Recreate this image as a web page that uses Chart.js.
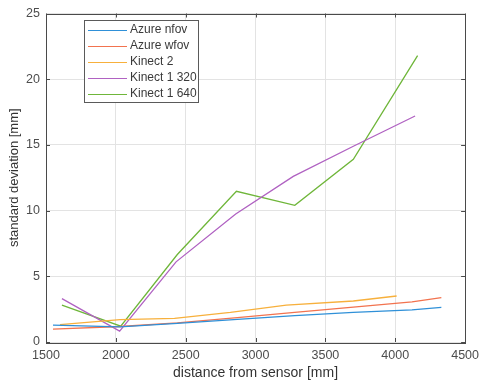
<!DOCTYPE html>
<html>
<head>
<meta charset="utf-8">
<script src="https://cdn.jsdelivr.net/npm/chart.js@4/dist/chart.umd.min.js"></script>
<style>
html,body{margin:0;padding:0;background:#fff;}
#wrap{width:485px;height:388px;position:relative;}
</style>
</head>
<body>
<div id="wrap"><canvas id="c" width="485" height="388"></canvas></div>
<script>
const seriesNames = ["Azure nfov", "Azure wfov", "Kinect 2", "Kinect 1 320", "Kinect 1 640"];

const azureNfovX = [1550, 2030, 2440, 2870, 3280, 3700, 4120, 4330];
const azureNfovY = [1.28, 1.15, 1.42, 1.72, 2.0, 2.25, 2.45, 2.63];

const azureWfovX = [1550, 2030, 2440, 2870, 3280, 3700, 4120, 4330];
const azureWfovY = [0.98, 1.18, 1.45, 1.85, 2.25, 2.65, 3.05, 3.38];

const kinect2X = [1600, 2030, 2420, 2820, 3220, 3700, 4010];
const kinect2Y = [1.33, 1.7, 1.8, 2.25, 2.8, 3.12, 3.5];

const kinect1_320X = [1614, 2027, 2431, 2858, 3270, 3700, 4142];
const kinect1_320Y = [3.3, 0.83, 6.1, 9.74, 12.6, 14.9, 17.2];

const kinect1_640X = [1614, 2035, 2440, 2863, 3281, 3700, 4160];
const kinect1_640Y = [2.8, 1.2, 6.66, 11.47, 10.4, 13.9, 21.8];

const xTicks = [1500, 2000, 2500, 3000, 3500, 4000, 4500];
const yTicks = [0, 5, 10, 15, 20, 25];

const colors = ["#2f90d8", "#f2734f", "#f7b03c", "#b062c2", "#6fb63a"];

function pts(xs, ys){ return xs.map((x,i)=>({x:x, y:ys[i]})); }
const allX = [azureNfovX, azureWfovX, kinect2X, kinect1_320X, kinect1_640X];
const allY = [azureNfovY, azureWfovY, kinect2Y, kinect1_320Y, kinect1_640Y];

const FONT = "'Liberation Sans', Arial, sans-serif";

const boxPlugin = {
  id: 'boxPlugin',
  afterDatasetsDraw(chart){
    const ctx = chart.ctx;
    const a = chart.chartArea;
    const xs = chart.scales.x, ys = chart.scales.y;
    ctx.save();
    ctx.strokeStyle = '#4a4a4a';
    ctx.lineWidth = 1;
    ctx.beginPath();
    xTicks.forEach(v=>{
      const px = Math.round(xs.getPixelForValue(v)) + 0.5;
      ctx.moveTo(px, a.bottom); ctx.lineTo(px, a.bottom - 4);
      ctx.moveTo(px, a.top); ctx.lineTo(px, a.top + 4);
    });
    yTicks.forEach(v=>{
      const py = Math.round(ys.getPixelForValue(v)) + 0.5;
      ctx.moveTo(a.left, py); ctx.lineTo(a.left + 4, py);
      ctx.moveTo(a.right, py); ctx.lineTo(a.right - 4, py);
    });
    ctx.stroke();
    ctx.strokeRect(Math.round(a.left)+0.5, Math.round(a.top)+0.5, Math.round(a.right-a.left), Math.round(a.bottom-a.top));

    const lx = 84, ly = 20, lw = 114, lh = 82;
    ctx.fillStyle = '#ffffff';
    ctx.fillRect(lx, ly, lw, lh);
    ctx.strokeStyle = '#5a5a5a';
    ctx.strokeRect(lx+0.5, ly+0.5, lw, lh);
    ctx.font = "12px " + FONT;
    ctx.textBaseline = 'middle';
    ctx.textAlign = 'left';
    seriesNames.forEach((n,i)=>{
      const yy = 30 + i*16;
      ctx.strokeStyle = colors[i];
      ctx.lineWidth = 1.2;
      ctx.beginPath();
      ctx.moveTo(88, yy+0.5); ctx.lineTo(127, yy+0.5);
      ctx.stroke();
      ctx.fillStyle = '#3a3a3a';
      ctx.fillText(n, 130, yy);
    });
    ctx.restore();
  }
};

new Chart(document.getElementById('c'), {
  type: 'line',
  data: {
    datasets: seriesNames.map((n,i)=>({
      label: n,
      data: pts(allX[i], allY[i]),
      borderColor: colors[i],
      backgroundColor: colors[i],
      borderWidth: 1.3,
      pointRadius: 0,
      tension: 0,
      fill: false
    }))
  },
  options: {
    responsive: false,
    animation: false,
    layout: { padding: { top: 9, right: 18, left: 0, bottom: 0 } },
    plugins: { legend: { display: false }, tooltip: { enabled: false } },
    scales: {
      x: {
        type: 'linear',
        min: 1500, max: 4500,
        afterFit(s){ s.height = 46; },
        afterBuildTicks(s){ s.ticks = xTicks.map(v=>({value:v})); },
        ticks: { color: '#4d4d4d', font: { family: FONT, size: 12.5 }, padding: 6, maxRotation: 0, autoSkip: false,
                 callback: (v)=> String(v) },
        grid: { color: '#e3e3e3', tickLength: 0, drawTicks: false },
        border: { display: false },
        title: { display: true, text: 'distance from sensor [mm]', color: '#333333', font: { family: FONT, size: 14 }, padding: { top: 0, bottom: 6 } }
      },
      y: {
        type: 'linear',
        min: 0, max: 25,
        afterFit(s){ s.width = 46; },
        afterBuildTicks(s){ s.ticks = yTicks.map(v=>({value:v})); },
        ticks: { color: '#4d4d4d', font: { family: FONT, size: 12.5 }, padding: 6, callback: (v)=> String(v) },
        grid: { color: '#e3e3e3', tickLength: 0, drawTicks: false },
        border: { display: false },
        title: { display: true, text: 'standard deviation [mm]', color: '#333333', font: { family: FONT, size: 13 }, padding: { top: 7, bottom: 0 } }
      }
    }
  },
  plugins: [boxPlugin]
});
</script>
</body>
</html>
